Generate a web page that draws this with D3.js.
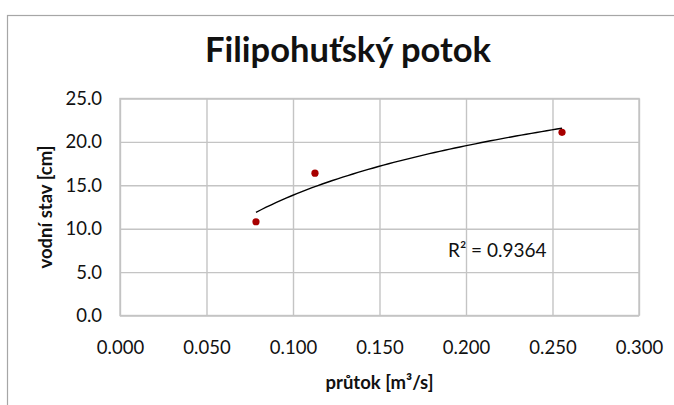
<!DOCTYPE html>
<html>
<head>
<meta charset="utf-8">
<script src="https://cdn.jsdelivr.net/npm/d3@7"></script>
<style>
    body { margin: 0; background: #ffffff; }
    text { font-family: Lato, "Open Sans", sans-serif; fill: #111111; }
</style>
</head>
<body>
<svg id="drawing_region"></svg>
<script>
// measured data points (průtok [m3/s], vodní stav [cm])
const flow = [0.0786, 0.1127, 0.2555];
const level = [10.8, 16.4, 21.1];
const x_ticks = [0, 0.05, 0.10, 0.15, 0.20, 0.25, 0.30];
const y_ticks = [0, 5, 10, 15, 20, 25];
const r2_label = 'R² = 0.9364';

const config = {
    parent: '#drawing_region',
    width: 674,
    height: 405,
    margin: {top: 98.5, right: 35, bottom: 89.5, left: 120},
    title: 'Filipohuťský potok',
    xlabel: 'průtok [m³/s]',
    ylabel: 'vodní stav [cm]'
};

const svg = d3.select(config.parent)
    .attr('width', config.width)
    .attr('height', config.height);

const inner_width = config.width - config.margin.left - config.margin.right;
const inner_height = config.height - config.margin.top - config.margin.bottom;

// outer chart frame (runs off the right/bottom edge like in the original)
svg.append('rect')
    .attr('x', 7.5)
    .attr('y', 15.5)
    .attr('width', 720)
    .attr('height', 430)
    .attr('fill', 'none')
    .attr('stroke', '#a6a6a6')
    .attr('stroke-width', 1.2);

const chart = svg.append('g')
    .attr('transform', `translate(${config.margin.left},${config.margin.top})`);

const xscale = d3.scaleLinear().domain([0, 0.3]).range([0, inner_width]);
const yscale = d3.scaleLinear().domain([0, 25]).range([inner_height, 0]);

const xaxis = d3.axisBottom(xscale)
    .tickValues(x_ticks)
    .tickSize(-inner_height)
    .tickPadding(25)
    .tickFormat(d3.format('.3f'));

const yaxis = d3.axisLeft(yscale)
    .tickValues(y_ticks)
    .tickSize(-inner_width)
    .tickPadding(18)
    .tickFormat(d3.format('.1f'));

const xg = chart.append('g')
    .attr('transform', `translate(0,${inner_height})`)
    .call(xaxis);
const yg = chart.append('g').call(yaxis);

[xg, yg].forEach(g => {
    g.select('.domain').remove();
    g.selectAll('.tick line')
        .attr('stroke', '#c4c4c4')
        .attr('stroke-width', 1.4);
    g.selectAll('.tick text')
        .style('font-size', '18.5px')
        .attr('fill', '#111111');
});

chart.append('rect')
    .attr('width', inner_width)
    .attr('height', inner_height)
    .attr('fill', 'none')
    .attr('stroke', '#c4c4c4')
    .attr('stroke-width', 1.4);

// logarithmic trendline y = a*ln(x) + b, least squares
const lx = flow.map(v => Math.log(v));
const mx = d3.mean(lx), my = d3.mean(level);
const sxy = d3.sum(lx, (v, i) => (v - mx) * (level[i] - my));
const sxx = d3.sum(lx, v => (v - mx) * (v - mx));
const a = sxy / sxx;
const b = my - a * mx;

const xmin = d3.min(flow), xmax = d3.max(flow);
const trend = d3.range(0, 61).map(i => {
    const xv = xmin + (xmax - xmin) * i / 60;
    return [xv, a * Math.log(xv) + b];
});

chart.append('path')
    .datum(trend)
    .attr('fill', 'none')
    .attr('stroke', '#000000')
    .attr('stroke-width', 1.4)
    .attr('d', d3.line().x(d => xscale(d[0])).y(d => yscale(d[1])));

chart.selectAll('circle')
    .data(flow)
    .enter()
    .append('circle')
    .attr('cx', d => xscale(d))
    .attr('cy', (d, i) => yscale(level[i]))
    .attr('r', 3.6)
    .attr('fill', '#a80000');

chart.append('text')
    .attr('x', 328)
    .attr('y', 158.5)
    .style('font-size', '19px')
    .text(r2_label);

// titles
svg.append('text')
    .attr('x', 348)
    .attr('y', 62)
    .attr('text-anchor', 'middle')
    .style('font-size', '34.5px')
    .style('font-weight', 'bold')
    .text(config.title);

svg.append('text')
    .attr('x', config.margin.left + inner_width / 2)
    .attr('y', 389)
    .attr('text-anchor', 'middle')
    .style('font-size', '18.5px')
    .style('font-weight', 'bold')
    .text(config.xlabel);

svg.append('text')
    .attr('transform', `translate(52,${config.margin.top + inner_height / 2}) rotate(-90)`)
    .attr('text-anchor', 'middle')
    .style('font-size', '18.5px')
    .style('font-weight', 'bold')
    .text(config.ylabel);
</script>
</body>
</html>
